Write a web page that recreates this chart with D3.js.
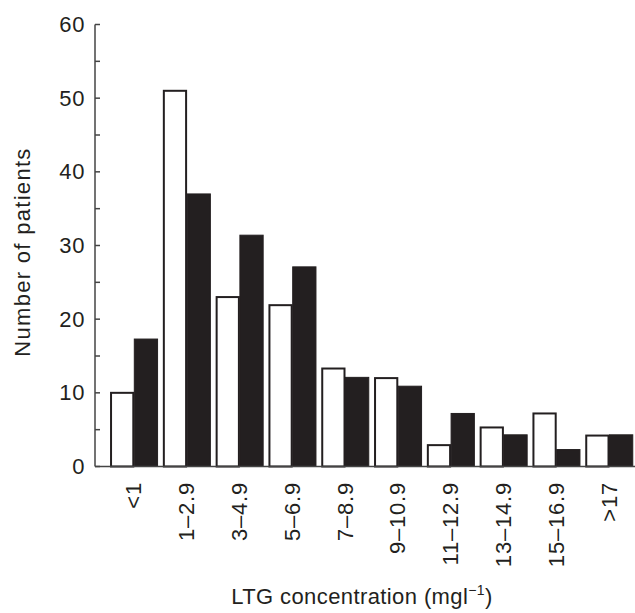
<!DOCTYPE html>
<html>
<head>
<meta charset="utf-8">
<script src="https://cdn.jsdelivr.net/npm/d3@7"></script>
<style>
  html, body { margin: 0; padding: 0; background: #fff; }
  text { font-family: "Liberation Sans", Arial, Helvetica, sans-serif; fill: #231f20; }
</style>
</head>
<body>
<svg id="chart" width="635" height="613"></svg>
<script>
const categories = ["<1", "1–2.9", "3–4.9", "5–6.9", "7–8.9", "9–10.9", "11–12.9", "13–14.9", "15–16.9", ">17"];
const seriesNames = ["open", "filled"];
const openValues = [10, 51, 23, 21.9, 13.3, 12, 2.9, 5.3, 7.2, 4.2];
const filledValues = [17.3, 37, 31.4, 27.1, 12.1, 10.9, 7.2, 4.3, 2.3, 4.3];
const yTicks = [0, 10, 20, 30, 40, 50, 60];
const yMinorTicks = [5, 15, 25, 35, 45, 55];

const svg = d3.select("#chart");
const ink = "#231f20";
const axisColor = "#444";

const y = d3.scaleLinear().domain([0, 60]).range([466.5, 24.5]);
const x = d3.scaleBand().domain(categories).range([107.4, 635.4]).paddingInner(0.1).paddingOuter(0.05);
const xs = d3.scaleBand().domain(seriesNames).range([0, x.bandwidth()]).padding(0);

const rows = categories.map((c, i) => ({ cat: c, open: openValues[i], filled: filledValues[i] }));

// bars
const g = svg.append("g");
rows.forEach(r => {
  seriesNames.forEach(s => {
    g.append("rect")
      .attr("x", x(r.cat) + xs(s) + (s === "open" ? 1 : 0.5))
      .attr("y", y(r[s]))
      .attr("width", xs.bandwidth() - (s === "open" ? 1.5 : 0.5))
      .attr("height", y(0) - y(r[s]))
      .attr("fill", s === "open" ? "#fff" : ink)
      .attr("stroke", ink)
      .attr("stroke-width", s === "open" ? 2 : 1);
  });
});

// y axis
const yAxis = svg.append("g");
yAxis.append("line")
  .attr("x1", 95).attr("x2", 95)
  .attr("y1", y(60)).attr("y2", y(0))
  .attr("stroke", axisColor).attr("stroke-width", 1.5);
yTicks.concat(yMinorTicks).forEach(t => {
  yAxis.append("line")
    .attr("x1", 95).attr("x2", 100)
    .attr("y1", y(t)).attr("y2", y(t))
    .attr("stroke", axisColor).attr("stroke-width", 1.5);
});
yTicks.forEach(t => {
  yAxis.append("text")
    .attr("x", 85).attr("y", y(t))
    .attr("text-anchor", "end")
    .attr("dominant-baseline", "central")
    .attr("font-size", 22)
    .attr("letter-spacing", 0.6)
    .text(t);
});

// x baseline
svg.append("line")
  .attr("x1", 95).attr("x2", 635)
  .attr("y1", y(0)).attr("y2", y(0))
  .attr("stroke", axisColor).attr("stroke-width", 1.5);

// x tick labels
categories.forEach(c => {
  const cx = x(c) + x.bandwidth() / 2;
  svg.append("text")
    .attr("transform", `translate(${cx},482) rotate(-90)`)
    .attr("text-anchor", "end")
    .attr("dominant-baseline", "central")
    .attr("font-size", 22)
    .attr("letter-spacing", 0.8)
    .text(c);
});

// y title
svg.append("text")
  .attr("transform", `translate(22,252) rotate(-90)`)
  .attr("text-anchor", "middle")
  .attr("dominant-baseline", "central")
  .attr("font-size", 22)
  .attr("letter-spacing", 1.3)
  .text("Number of patients");

// x title
const xt = svg.append("text")
  .attr("x", 362).attr("y", 604)
  .attr("text-anchor", "middle")
  .attr("font-size", 22)
  .attr("letter-spacing", 0.4);
xt.append("tspan").text("LTG concentration (mgl");
xt.append("tspan").attr("font-size", 14).attr("dy", -9).text("−1");
xt.append("tspan").attr("dy", 9).text(")");
</script>
</body>
</html>
